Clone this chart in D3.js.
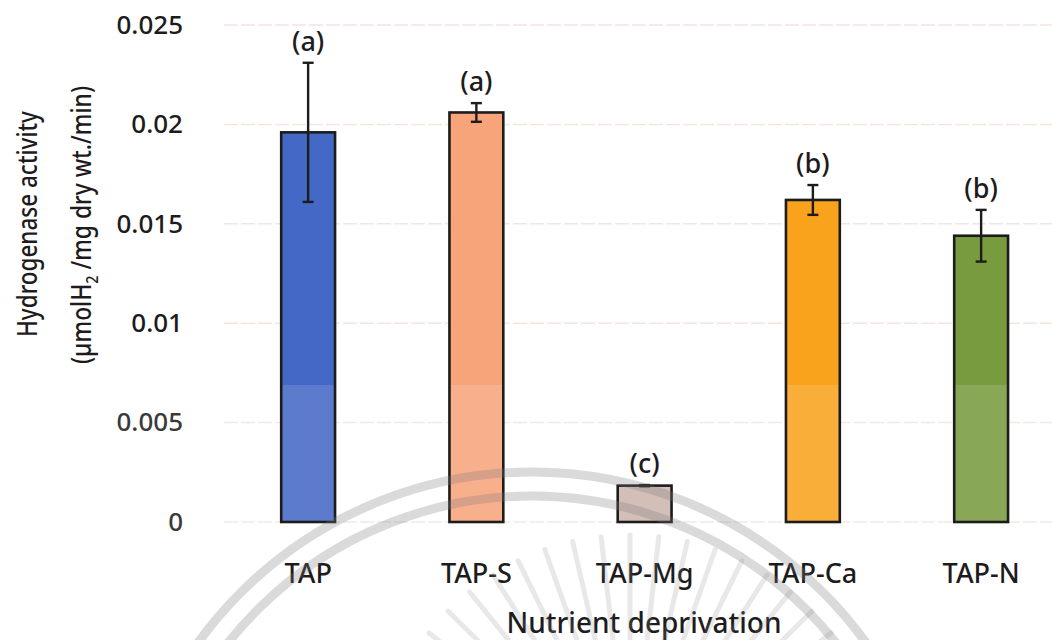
<!DOCTYPE html>
<html>
<head>
<meta charset="utf-8">
<script src="https://cdn.jsdelivr.net/npm/d3@7"></script>
<style>
  body { margin: 0; background: #fff; }
  text { font-family: "Noto Sans", "Open Sans", sans-serif; fill: #1e1b1c; font-weight: 500; }
</style>
</head>
<body>
<svg id="chart" width="1052" height="640"></svg>
<script>
// Hydrogenase activity by nutrient deprivation treatment
const categories = ["TAP", "TAP-S", "TAP-Mg", "TAP-Ca", "TAP-N"];
const activity   = [0.0196, 0.0206, 0.00183, 0.0162, 0.0144];
const errors     = [0.0035, 0.00047, 0.00003, 0.00075, 0.0013];
const groups     = ["(a)", "(a)", "(c)", "(b)", "(b)"];
const barColors  = ["#4468c6", "#f7a47b", "#cdb5ae", "#f9a21c", "#789b3e"];
const yTicks     = [0, 0.005, 0.01, 0.015, 0.02, 0.025];
const yTickLabels = ["0", "0.005", "0.01", "0.015", "0.02", "0.025"];

const svg = d3.select("#chart");
const W = 1052, H = 640;

const y = d3.scaleLinear().domain([0, 0.025]).range([522, 25]);
const x = d3.scaleBand()
  .domain(categories)
  .range([224, 1065.25])
  .paddingInner(0.68)
  .paddingOuter(0.34);

// horizontal gridlines
svg.append("g")
  .selectAll("line")
  .data(yTicks)
  .join("line")
  .attr("x1", 224).attr("x2", W)
  .attr("y1", d => y(d)).attr("y2", d => y(d))
  .attr("stroke", "#f3e6dd")
  .attr("stroke-width", 1.5)
  .attr("stroke-dasharray", "14 3");

// y axis tick labels
const yAxis = d3.axisLeft(y)
  .tickValues(yTicks)
  .tickFormat((d, i) => yTickLabels[i])
  .tickSize(0)
  .tickPadding(0);
const gy = svg.append("g").attr("transform", "translate(183,0)").call(yAxis);
gy.select(".domain").remove();
gy.selectAll("text")
  .attr("font-size", 26)
  .attr("font-family", "Noto Sans")
  .attr("fill", "#1e1b1c");

// bar fills
svg.append("g")
  .selectAll("rect")
  .data(categories)
  .join("rect")
  .attr("x", d => x(d))
  .attr("width", x.bandwidth())
  .attr("y", (d, i) => y(activity[i]))
  .attr("height", (d, i) => y(0) - y(activity[i]))
  .attr("fill", (d, i) => barColors[i]);

// pale wash over the lower part of the page
svg.append("rect")
  .attr("x", 0).attr("y", 385).attr("width", W).attr("height", H - 385)
  .attr("fill", "#fff").attr("opacity", 0.13);

// bar outlines
svg.append("g")
  .selectAll("rect")
  .data(categories)
  .join("rect")
  .attr("x", d => x(d))
  .attr("width", x.bandwidth())
  .attr("y", (d, i) => y(activity[i]))
  .attr("height", (d, i) => y(0) - y(activity[i]))
  .attr("fill", "none")
  .attr("stroke", "#1c1c1c")
  .attr("stroke-width", 2.6);

// error bars
const eg = svg.append("g").attr("stroke", "#1c1c1c").attr("stroke-width", 2.4);
categories.forEach((c, i) => {
  const cx = x(c) + x.bandwidth() / 2;
  const hi = y(activity[i] + errors[i]);
  const lo = y(activity[i] - errors[i]);
  eg.append("line").attr("x1", cx).attr("x2", cx).attr("y1", hi).attr("y2", lo);
  eg.append("line").attr("x1", cx - 5.5).attr("x2", cx + 5.5).attr("y1", hi).attr("y2", hi);
  eg.append("line").attr("x1", cx - 5.5).attr("x2", cx + 5.5).attr("y1", lo).attr("y2", lo);
});

// significance letters
svg.append("g")
  .selectAll("text")
  .data(categories)
  .join("text")
  .attr("x", d => x(d) + x.bandwidth() / 2)
  .attr("y", (d, i) => y(activity[i] + errors[i]) - 12)
  .attr("text-anchor", "middle")
  .attr("font-size", 27)
  .text((d, i) => groups[i]);

// category labels
const xAxis = d3.axisBottom(x).tickSize(0).tickPadding(0);
const gx = svg.append("g").attr("transform", "translate(0,557)").call(xAxis);
gx.select(".domain").remove();
gx.selectAll("text")
  .attr("font-size", 27)
  .attr("font-family", "Noto Sans")
  .attr("fill", "#1e1b1c")
  .attr("dy", "0.95em");

// axis titles
svg.append("text")
  .attr("x", 644).attr("y", 633)
  .attr("text-anchor", "middle")
  .attr("font-size", 28)
  .text("Nutrient deprivation");

svg.append("text")
  .attr("transform", "translate(37,224) rotate(-90)")
  .attr("text-anchor", "middle")
  .attr("font-size", 27)
  .attr("textLength", 226)
  .attr("lengthAdjust", "spacingAndGlyphs")
  .text("Hydrogenase activity");

const unit = svg.append("text")
  .attr("transform", "translate(91,225) rotate(-90)")
  .attr("text-anchor", "middle")
  .attr("font-size", 27)
  .attr("textLength", 278)
  .attr("lengthAdjust", "spacingAndGlyphs");
unit.append("tspan").text("(µmolH");
unit.append("tspan").attr("font-size", 17).attr("dy", 7).text("2");
unit.append("tspan").attr("dy", -7).text(" /mg dry wt./min)");

// faint seal in the lower part of the page
const seal = svg.append("g").attr("pointer-events", "none");
const ringCenter = [532, 884];
[412, 388].forEach(r => {
  seal.append("circle")
    .attr("cx", ringCenter[0]).attr("cy", ringCenter[1]).attr("r", r)
    .attr("fill", "none")
    .attr("stroke", "#7a7a7a")
    .attr("stroke-opacity", 0.28)
    .attr("stroke-width", 9);
});
const rayAngles = d3.range(-168, -10, 6.5);
seal.append("g")
  .selectAll("line")
  .data(rayAngles)
  .join("line")
  .attr("x1", a => 630 + 120 * Math.cos(a * Math.PI / 180))
  .attr("y1", a => 790 + 120 * Math.sin(a * Math.PI / 180))
  .attr("x2", a => 630 + 255 * Math.cos(a * Math.PI / 180))
  .attr("y2", a => 790 + 255 * Math.sin(a * Math.PI / 180))
  .attr("stroke", "#8a8a8a")
  .attr("stroke-opacity", 0.2)
  .attr("stroke-width", 5)
  .attr("stroke-linecap", "round");
</script>
</body>
</html>
